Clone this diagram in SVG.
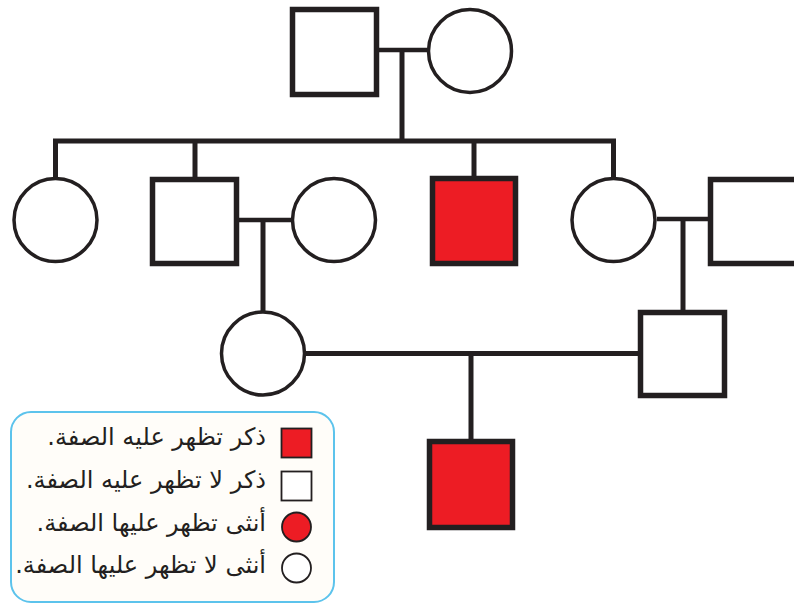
<svg xmlns="http://www.w3.org/2000/svg" width="794" height="604" viewBox="0 0 794 604">
<style>
.sq{fill:#fff;stroke:#231f20;stroke-width:5.5}
.sq.red{fill:#ed1c24}
.ci{fill:#fff;stroke:#231f20;stroke-width:3.5}
.ln{fill:none;stroke:#231f20;stroke-width:5}
.mar{fill:none;stroke:#231f20;stroke-width:4.5}
.lsq{stroke:#231f20;stroke-width:1.8}
.lt{font-family:"DejaVu Sans",sans-serif;font-size:24px;fill:#231f20}
</style>
<rect width="794" height="604" fill="#fff"/>
<g id="connectors">
<path class="mar" d="M379,50 H427"/>
<path class="ln" d="M402,50 V141"/>
<path class="ln" d="M55.5,177 V141 H613.5 V177"/>
<path class="ln" d="M195,141 V177"/>
<path class="ln" d="M474,141 V177"/>
<path class="mar" d="M239,220 H292"/>
<path class="ln" d="M263,220 V311"/>
<path class="mar" d="M657,219 H710"/>
<path class="ln" d="M683,219 V310"/>
<path class="ln" d="M306,353.5 H638"/>
<path class="ln" d="M471,353.5 V439"/>
</g>
<g id="grandfather"><rect class="sq" x="292.5" y="9.5" width="84" height="85"/></g>
<g id="grandmother"><circle class="ci" cx="470" cy="51" r="41.5"/></g>
<g id="daughter1"><circle class="ci" cx="55.5" cy="220" r="41.5"/></g>
<g id="son1"><rect class="sq" x="152.5" y="179.5" width="84" height="84"/></g>
<g id="son1-wife"><circle class="ci" cx="334" cy="220" r="41.5"/></g>
<g id="son2-affected"><rect class="sq red" x="432.5" y="178.5" width="83" height="85"/></g>
<g id="daughter2"><circle class="ci" cx="613.5" cy="220" r="41.5"/></g>
<g id="daughter2-husband"><rect class="sq" x="710.5" y="179.5" width="90" height="84"/></g>
<g id="granddaughter"><circle class="ci" cx="263" cy="353.5" r="41.5"/></g>
<g id="grandson"><rect class="sq" x="640.5" y="312.5" width="84" height="83"/></g>
<g id="great-grandson-affected"><rect class="sq red" x="429.5" y="441.5" width="83" height="86"/></g>
<g id="legend">
<rect x="11" y="412" width="323" height="190" rx="20" ry="20" fill="#fffdf9" stroke="#5cc3ec" stroke-width="2"/>
<rect class="lsq" x="281.5" y="428.5" width="30" height="29" fill="#ed1c24"/>
<rect class="lsq" x="281.5" y="471.5" width="30" height="29" fill="#fff"/>
<circle cx="296.5" cy="527" r="14.5" fill="#ed1c24" stroke="#231f20" stroke-width="1.8"/>
<circle cx="296.5" cy="568" r="14.5" fill="#fff" stroke="#231f20" stroke-width="1.8"/>
<text class="lt" x="266" y="445" direction="rtl" text-anchor="start">ذكر تظهر عليه الصفة.</text>
<text class="lt" x="266" y="488" direction="rtl" text-anchor="start">ذكر لا تظهر عليه الصفة.</text>
<text class="lt" x="266" y="531" direction="rtl" text-anchor="start">أنثى تظهر عليها الصفة.</text>
<text class="lt" x="266" y="573" direction="rtl" text-anchor="start">أنثى لا تظهر عليها الصفة.</text>
</g>
</svg>
